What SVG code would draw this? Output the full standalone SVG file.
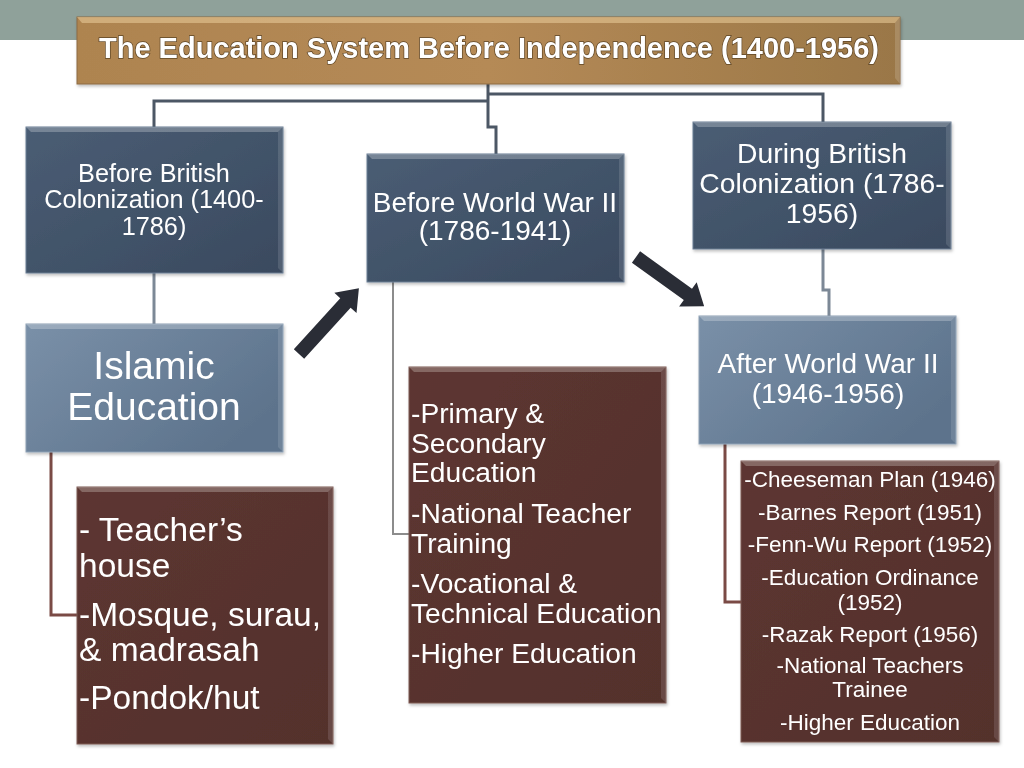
<svg xmlns="http://www.w3.org/2000/svg" width="1024" height="768" viewBox="0 0 1024 768">
  <defs>
    <linearGradient id="gGold" x1="0" y1="0" x2="1" y2="0">
      <stop offset="0" stop-color="#ae8450"/>
      <stop offset="0.5" stop-color="#b58a56"/>
      <stop offset="1" stop-color="#9a7747"/>
    </linearGradient>
    <linearGradient id="gDark" x1="0" y1="0" x2="1" y2="1">
      <stop offset="0" stop-color="#4a5d74"/>
      <stop offset="1" stop-color="#3a4a5f"/>
    </linearGradient>
    <linearGradient id="gLight" x1="0" y1="0" x2="1" y2="0.6">
      <stop offset="0" stop-color="#7a90a8"/>
      <stop offset="1" stop-color="#5d738c"/>
    </linearGradient>
    <linearGradient id="gBrown" x1="0" y1="0" x2="1" y2="1">
      <stop offset="0" stop-color="#5d3631"/>
      <stop offset="1" stop-color="#53302c"/>
    </linearGradient>
    <filter id="sh" x="-5%" y="-5%" width="110%" height="115%">
      <feDropShadow dx="1" dy="2" stdDeviation="1.5" flood-color="#000" flood-opacity="0.25"/>
    </filter>
  </defs>
  <style>
    text { font-family: "Liberation Sans", Arial, sans-serif; fill: #ffffff; }
    .ttl { font-weight: bold; font-size: 29px; stroke: #5e4525; stroke-width: 1.4px; paint-order: stroke; }
    .c { text-anchor: middle; }
    .hl { fill: #ffffff; fill-opacity: 0.25; }
    .hr { fill: #ffffff; fill-opacity: 0.12; }
    .conn { fill: none; stroke-width: 3; }
    .dark { stroke: #4c5765; }
    .slate { stroke: #7c8896; }
    .grey { stroke: #8c8c8c; stroke-width: 2; }
    .brn { stroke: #7a4a45; }
    .arrow { fill: #2a2d36; }
    .bd { stroke: #6b7e93; stroke-width: 1; }
    .bb { stroke: #7d5a55; stroke-width: 1; }
  </style>

  <rect x="0" y="0" width="1024" height="40" fill="#8fa19a"/>
  <rect x="0" y="40" width="1024" height="728" fill="#ffffff"/>

  <g id="connectors">
    <polyline class="conn dark" points="488,84 488,127 496,127 496,154"/>
    <polyline class="conn dark" points="488,101 154,101 154,128"/>
    <polyline class="conn dark" points="488,94 823,94 823,122"/>
    <line class="conn slate" x1="154" y1="273" x2="154" y2="324"/>
    <polyline class="conn slate" points="823,249 823,290 829,290 829,316"/>
    <polyline class="conn grey" points="393,282 393,534 409,534"/>
    <polyline class="conn brn" points="51,452 51,615 77,615"/>
    <polyline class="conn brn" points="725,444 725,602 741,602"/>
    <polygon class="arrow" transform="translate(299,354) rotate(-47.7)" points="0,-7 69,-7 69,-15 89,0 69,15 69,7 0,7"/>
    <polygon class="arrow" transform="translate(636,257) rotate(35.8)" points="0,-7 64,-7 64,-15 84,0 64,15 64,7 0,7"/>
  </g>

  <g id="title" filter="url(#sh)">
    <rect x="77" y="17" width="823" height="67" fill="url(#gGold)" stroke="#8c6b40" stroke-width="1"/>
    <polygon points="77,17 900,17 895,23 82,23" fill="#e6c896" fill-opacity="0.6"/>
    <polygon points="900,17 900,84 895,78 895,23" fill="#ffffff" fill-opacity="0.15"/>
    <text class="ttl c" x="489" y="58">The Education System Before Independence (1400-1956)</text>
  </g>

  <g id="before-british" filter="url(#sh)">
    <rect x="26" y="127" width="257" height="146" fill="url(#gDark)" class="bd"/>
    <polygon class="hl" points="26,127 283,127 278,132 31,132"/>
    <polygon class="hr" points="283,127 283,273 278,268 278,132"/>
    <text class="c" x="154" y="182" font-size="25.3">Before British</text>
    <text class="c" x="154" y="208" font-size="25.3">Colonization (1400-</text>
    <text class="c" x="154" y="235" font-size="25.3">1786)</text>
  </g>

  <g id="islamic" filter="url(#sh)">
    <rect x="26" y="324" width="257" height="128" fill="url(#gLight)" stroke="#8da0b4" stroke-width="1"/>
    <polygon class="hl" points="26,324 283,324 278,329 31,329"/>
    <polygon class="hr" points="283,324 283,452 278,447 278,329"/>
    <text class="c" x="154" y="379" font-size="39">Islamic</text>
    <text class="c" x="154" y="420" font-size="39">Education</text>
  </g>

  <g id="before-ww2" filter="url(#sh)">
    <rect x="367" y="154" width="257" height="128" fill="url(#gDark)" class="bd"/>
    <polygon class="hl" points="367,154 624,154 619,159 372,159"/>
    <polygon class="hr" points="624,154 624,282 619,277 619,159"/>
    <text class="c" x="495" y="212" font-size="28">Before World War II</text>
    <text class="c" x="495" y="240" font-size="28">(1786-1941)</text>
  </g>

  <g id="during-british" filter="url(#sh)">
    <rect x="693" y="122" width="258" height="127" fill="url(#gDark)" class="bd"/>
    <polygon class="hl" points="693,122 951,122 946,127 698,127"/>
    <polygon class="hr" points="951,122 951,249 946,244 946,127"/>
    <text class="c" x="822" y="163" font-size="28.3">During British</text>
    <text class="c" x="822" y="193" font-size="28.3">Colonization (1786-</text>
    <text class="c" x="822" y="223" font-size="28.3">1956)</text>
  </g>

  <g id="after-ww2" filter="url(#sh)">
    <rect x="699" y="316" width="257" height="128" fill="url(#gLight)" stroke="#8da0b4" stroke-width="1"/>
    <polygon class="hl" points="699,316 956,316 951,321 704,321"/>
    <polygon class="hr" points="956,316 956,444 951,439 951,321"/>
    <text class="c" x="828" y="373" font-size="28">After World War II</text>
    <text class="c" x="828" y="403" font-size="28">(1946-1956)</text>
  </g>

  <g id="islamic-places" filter="url(#sh)">
    <rect x="77" y="487" width="256" height="257" fill="url(#gBrown)" class="bb"/>
    <polygon class="hl" points="77,487 333,487 328,492 82,492"/>
    <polygon class="hr" points="333,487 333,744 328,739 328,492"/>
    <text x="79" y="541" font-size="33.5">- Teacher’s</text>
    <text x="79" y="577" font-size="33.5">house</text>
    <text x="79" y="626" font-size="33.5">-Mosque, surau,</text>
    <text x="79" y="661" font-size="33.5">&amp; madrasah</text>
    <text x="79" y="709" font-size="33.5">-Pondok/hut</text>
  </g>

  <g id="ww2-before-list" filter="url(#sh)">
    <rect x="409" y="367" width="257" height="336" fill="url(#gBrown)" class="bb"/>
    <polygon class="hl" points="409,367 666,367 661,372 414,372"/>
    <polygon class="hr" points="666,367 666,703 661,698 661,372"/>
    <text x="411" y="423" font-size="28.2">-Primary &amp;</text>
    <text x="411" y="453" font-size="28.2">Secondary</text>
    <text x="411" y="482" font-size="28.2">Education</text>
    <text x="411" y="523" font-size="28.2">-National Teacher</text>
    <text x="411" y="553" font-size="28.2">Training</text>
    <text x="411" y="593" font-size="28.2">-Vocational &amp;</text>
    <text x="411" y="623" font-size="28.2">Technical Education</text>
    <text x="411" y="663" font-size="28.2">-Higher Education</text>
  </g>

  <g id="ww2-after-list" filter="url(#sh)">
    <rect x="741" y="461" width="258" height="281" fill="url(#gBrown)" class="bb"/>
    <polygon class="hl" points="741,461 999,461 994,466 746,466"/>
    <polygon class="hr" points="999,461 999,742 994,737 994,466"/>
    <text class="c" x="870" y="487" font-size="22.5">-Cheeseman Plan (1946)</text>
    <text class="c" x="870" y="520" font-size="22.5">-Barnes Report (1951)</text>
    <text class="c" x="870" y="552" font-size="22.5">-Fenn-Wu Report (1952)</text>
    <text class="c" x="870" y="585" font-size="22.5">-Education Ordinance</text>
    <text class="c" x="870" y="610" font-size="22.5">(1952)</text>
    <text class="c" x="870" y="642" font-size="22.5">-Razak Report (1956)</text>
    <text class="c" x="870" y="673" font-size="22.5">-National Teachers</text>
    <text class="c" x="870" y="697" font-size="22.5">Trainee</text>
    <text class="c" x="870" y="730" font-size="22.5">-Higher Education</text>
  </g>
</svg>
